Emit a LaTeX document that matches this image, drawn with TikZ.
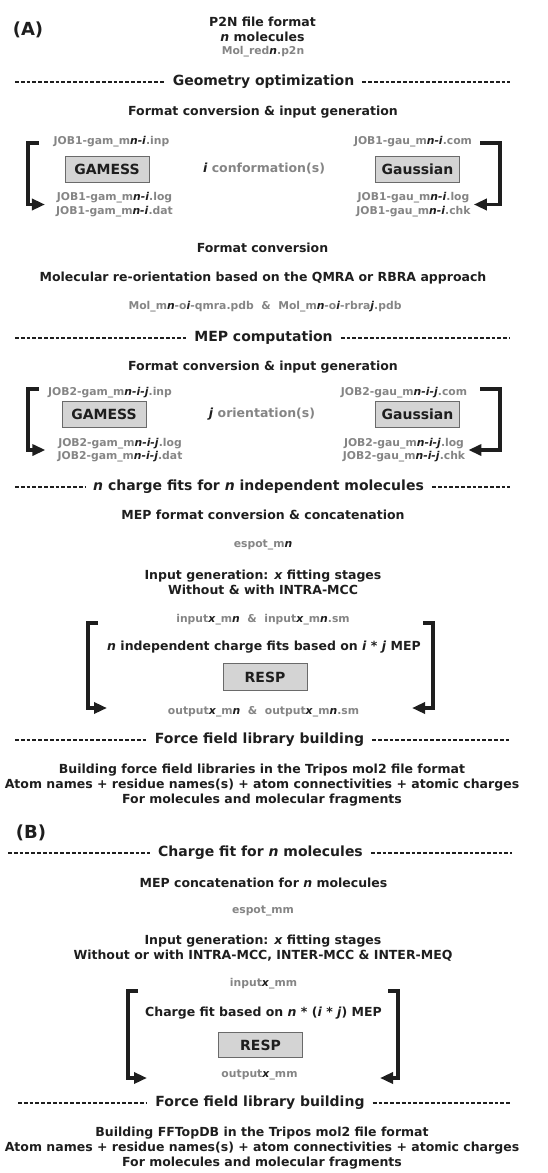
\documentclass[tikz,border=0pt]{standalone}
\usepackage{fontspec}
\setmainfont{DejaVu Sans}
\usetikzlibrary{arrows.meta}

\definecolor{ink}{HTML}{1E1E1E}
\definecolor{filegrey}{HTML}{858585}
\definecolor{boxfill}{HTML}{D4D4D4}
\definecolor{boxline}{HTML}{6A6A6A}

\newcommand{\vb}[1]{\textit{#1}}
\newcommand{\vg}[1]{{\color{ink}\textit{#1}}}

\begin{document}
\begin{tikzpicture}[
  x=1pt, y=-1pt,
  txt/.style = {font=\fontsize{12.5}{15}\selectfont\bfseries, text=ink, align=center, inner sep=1pt},
  file/.style = {font=\fontsize{10.8}{13.5}\selectfont\bfseries, text=filegrey, align=center, inner sep=1pt},
  head/.style = {font=\fontsize{14}{17}\selectfont\bfseries, text=ink, inner xsep=8pt},
  prog/.style = {draw=boxline, fill=boxfill, line width=0.9pt, minimum width=84pt, minimum height=26pt, font=\fontsize{14}{17}\selectfont\bfseries, text=ink},
  panel/.style = {font=\fontsize{18}{20}\selectfont\bfseries, text=ink},
  rule/.style = {line width=1.8pt, ink, dash pattern=on 3.8pt off 2pt},
  feedback/.style = {line width=3.5pt, ink, -{Triangle[length=13pt,width=11pt]}}
]
\useasboundingbox (0,0) rectangle (547,1173);

% ---------------- (A) ----------------
\node[panel] (pA) at (28,30) {(A)};
\node[txt] (p2n) at (262.5,29.5) {P2N file format\\\vb{n} molecules};
\node[file] (molred) at (263,52) {Mol\_red\vg{n}.p2n};

% Geometry optimization
\node[head] (geo) at (263.5,82) {Geometry optimization};
\coordinate (geoL) at (15,82);
\coordinate (geoR) at (510,82);
\draw[rule] (geoL) -- (geo);
\draw[rule] (geo) -- (geoR);

\node[txt] (fmt1) at (263,112) {Format conversion \& input generation};
\node[file] (gaminp1) at (111.5,142) {JOB1-gam\_m\vg{n-i}.inp};
\node[file] (gauinp1) at (413,142) {JOB1-gau\_m\vg{n-i}.com};
\node[prog] (gam1) at (107,169.5) {GAMESS};
\node[txt, text=filegrey] (conf) at (264,169) {\vg{i} conformation(s)};
\node[prog] (gau1) at (417.5,169.5) {Gaussian};
\node[file] (gamout1) at (114.5,204.5) {JOB1-gam\_m\vg{n-i}.log\\JOB1-gam\_m\vg{n-i}.dat};
\node[file] (gauout1) at (413.5,204.5) {JOB1-gau\_m\vg{n-i}.log\\JOB1-gau\_m\vg{n-i}.chk};

\coordinate (gamtop1) at (39,143);
\coordinate (gautop1) at (480,143);
\draw[feedback] (gamtop1) -- ++(-11,0) |- ([xshift=-10pt]gamout1.west);
\draw[feedback] (gautop1) -- ++(20,0) |- ([xshift=2pt]gauout1.east);

\node[txt] (fmt2) at (262.5,248) {Format conversion};
\node[txt] (reor) at (263,278) {Molecular re-orientation based on the QMRA or RBRA approach};
\node[file] (pdb) at (265,307) {Mol\_m\vg{n}-o\vg{i}-qmra.pdb~~\&~~Mol\_m\vg{n}-o\vg{i}-rbra\vg{j}.pdb};

% MEP computation
\node[head] (mep) at (263.5,338) {MEP computation};
\coordinate (mepL) at (15,338);
\coordinate (mepR) at (510,338);
\draw[rule] (mepL) -- (mep);
\draw[rule] (mep) -- (mepR);

\node[txt] (fmt3) at (263,367) {Format conversion \& input generation};
\node[file] (gaminp2) at (110,393) {JOB2-gam\_m\vg{n-i-j}.inp};
\node[file] (gauinp2) at (404,393) {JOB2-gau\_m\vg{n-i-j}.com};
\node[prog] (gam2) at (104,414.5) {GAMESS};
\node[txt, text=filegrey] (orient) at (262,414) {\vg{j} orientation(s)};
\node[prog] (gau2) at (417.5,414.5) {Gaussian};
\node[file] (gamout2) at (120,450) {JOB2-gam\_m\vg{n-i-j}.log\\JOB2-gam\_m\vg{n-i-j}.dat};
\node[file] (gauout2) at (404,450) {JOB2-gau\_m\vg{n-i-j}.log\\JOB2-gau\_m\vg{n-i-j}.chk};

\coordinate (gamtop2) at (39,389);
\coordinate (gautop2) at (480,389);
\draw[feedback] (gamtop2) -- ++(-11,0) |- ([xshift=-11pt]gamout2.west);
\draw[feedback] (gautop2) -- ++(20,0) |- ([xshift=2pt]gauout2.east);

% n charge fits
\node[head] (fits) at (258.5,487) {\vb{n} charge fits for \vb{n} independent molecules};
\coordinate (fitsL) at (15,487);
\coordinate (fitsR) at (510,487);
\draw[rule] (fitsL) -- (fits);
\draw[rule] (fits) -- (fitsR);

\node[txt] (mepcat) at (263,515) {MEP format conversion \& concatenation};
\node[file] (espot) at (263,545) {espot\_m\vg{n}};
\node[txt] (inpgen) at (263,582) {Input generation: \vb{x} fitting stages\\Without \& with INTRA-MCC};
\node[file] (inpx) at (263,620) {input\vg{x}\_m\vg{n}~~\&~~input\vg{x}\_m\vg{n}.sm};
\node[txt] (indep) at (264,647) {\vb{n} independent charge fits based on \vb{i} * \vb{j} MEP};
\node[prog, minimum height=27pt] (resp1) at (265,677) {RESP};
\node[file] (outx) at (263.5,712) {output\vg{x}\_m\vg{n}~~\&~~output\vg{x}\_m\vg{n}.sm};

\coordinate (fittl) at (98,623);
\coordinate (fittr) at (423,623);
\coordinate (fitinL) at (107,708);
\coordinate (fitinR) at (412,708);
\draw[feedback] (fittl) -- ++(-10,0) |- (fitinL);
\draw[feedback] (fittr) -- ++(10,0) |- (fitinR);

% Force field library building
\node[head] (ffA) at (259.5,740) {Force field library building};
\coordinate (ffAL) at (15,740);
\coordinate (ffAR) at (510,740);
\draw[rule] (ffAL) -- (ffA);
\draw[rule] (ffA) -- (ffAR);

\node[txt] (buildA) at (262,785) {Building force field libraries in the Tripos mol2 file format\\Atom names + residue names(s) + atom connectivities + atomic charges\\For molecules and molecular fragments};

% ---------------- (B) ----------------
\node[panel] (pB) at (31,833) {(B)};

\node[head] (cfit) at (260.5,853) {Charge fit for \vb{n} molecules};
\coordinate (cfitL) at (8,853);
\coordinate (cfitR) at (512,853);
\draw[rule] (cfitL) -- (cfit);
\draw[rule] (cfit) -- (cfitR);

\node[txt] (mepcatB) at (263.5,883) {MEP concatenation for \vb{n} molecules};
\node[file] (espotB) at (263,911) {espot\_mm};
\node[txt] (inpgenB) at (263,948) {Input generation: \vb{x} fitting stages\\Without or with INTRA-MCC, INTER-MCC \& INTER-MEQ};
\node[file] (inpxB) at (263.5,984) {input\vg{x}\_mm};
\node[txt] (cfitB) at (263.5,1013) {Charge fit based on \vb{n} * (\vb{i} * \vb{j}) MEP};
\node[prog, minimum height=25pt] (resp2) at (260.5,1045) {RESP};
\node[file] (outxB) at (259.5,1075) {output\vg{x}\_mm};

\coordinate (cfittl) at (138,991);
\coordinate (cfittr) at (388,991);
\coordinate (cfitinL) at (147,1078);
\coordinate (cfitinR) at (380,1078);
\draw[feedback] (cfittl) -- ++(-10,0) |- (cfitinL);
\draw[feedback] (cfittr) -- ++(10,0) |- (cfitinR);

\node[head] (ffB) at (260,1103) {Force field library building};
\coordinate (ffBL) at (18,1103);
\coordinate (ffBR) at (510,1103);
\draw[rule] (ffBL) -- (ffB);
\draw[rule] (ffB) -- (ffBR);

\node[txt] (buildB) at (262,1148) {Building FFTopDB in the Tripos mol2 file format\\Atom names + residue names(s) + atom connectivities + atomic charges\\For molecules and molecular fragments};

\end{tikzpicture}
\end{document}
